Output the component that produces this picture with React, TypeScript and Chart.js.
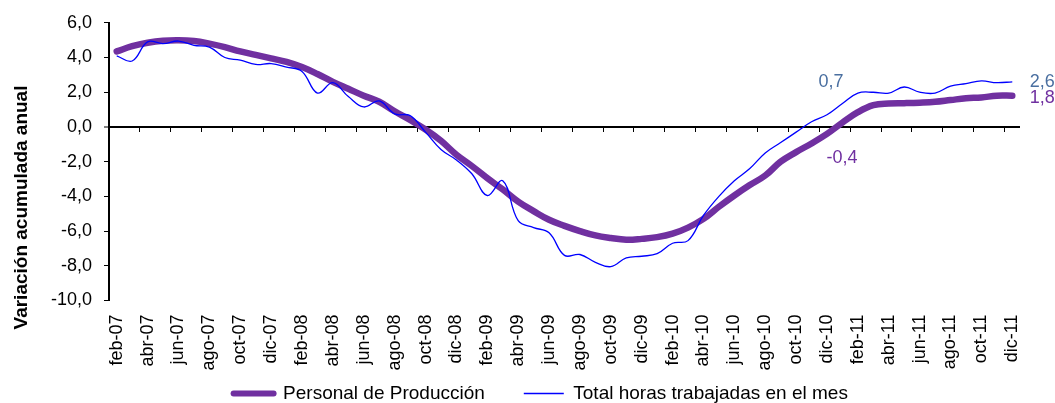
import React, { useEffect, useRef } from 'react';
import { Chart, registerables } from 'chart.js';

Chart.register(...registerables);

const FONT = '"Liberation Sans", Arial, Helvetica, sans-serif';

const months = [
  'feb-07', 'mar-07', 'abr-07', 'may-07', 'jun-07', 'jul-07', 'ago-07', 'sep-07', 'oct-07', 'nov-07', 'dic-07',
  'ene-08', 'feb-08', 'mar-08', 'abr-08', 'may-08', 'jun-08', 'jul-08', 'ago-08', 'sep-08', 'oct-08', 'nov-08', 'dic-08',
  'ene-09', 'feb-09', 'mar-09', 'abr-09', 'may-09', 'jun-09', 'jul-09', 'ago-09', 'sep-09', 'oct-09', 'nov-09', 'dic-09',
  'ene-10', 'feb-10', 'mar-10', 'abr-10', 'may-10', 'jun-10', 'jul-10', 'ago-10', 'sep-10', 'oct-10', 'nov-10', 'dic-10',
  'ene-11', 'feb-11', 'mar-11', 'abr-11', 'may-11', 'jun-11', 'jul-11', 'ago-11', 'sep-11', 'oct-11', 'nov-11', 'dic-11',
];

const personalProduccion = [
  4.35, 4.65, 4.85, 4.97, 5.0, 4.95, 4.8, 4.6, 4.35, 4.15,
  3.95, 3.75, 3.45, 3.05, 2.6, 2.2, 1.8, 1.45, 0.9, 0.4,
  -0.15, -0.8, -1.6, -2.25, -2.95, -3.6, -4.3, -4.85, -5.35, -5.7,
  -6.0, -6.25, -6.4, -6.5, -6.45, -6.35, -6.15, -5.8, -5.3, -4.6,
  -3.95, -3.35, -2.8, -2.0, -1.45, -0.95, -0.4, 0.25, 0.85, 1.25,
  1.35, 1.37, 1.4, 1.45, 1.55, 1.65, 1.7, 1.8, 1.8,
];

const totalHoras = [
  4.1, 3.8, 4.9, 4.8, 4.95, 4.7, 4.6, 4.0, 3.85, 3.6,
  3.65, 3.45, 3.2, 1.95, 2.55, 1.75, 1.15, 1.5, 0.75, 0.65,
  -0.3, -1.3, -1.9, -2.7, -3.95, -3.1, -5.4, -5.8, -6.1, -7.4,
  -7.35, -7.8, -8.05, -7.55, -7.45, -7.3, -6.7, -6.55, -5.1, -4.0,
  -3.1, -2.4, -1.5, -0.9, -0.3, 0.3, 0.7, 1.35, 1.95, 2.0,
  1.95, 2.3, 2.0, 1.95, 2.35, 2.5, 2.65, 2.55, 2.6,
];

const seriesNames = ['Personal de Producción', 'Total horas trabajadas en el mes'];
const axisTitle = 'Variación acumulada anual';
const Y_MIN = -10;
const Y_MAX = 6;
const Y_STEP = 2;
const markIndex = 46; // dic-10

const PURPLE = '#7030A0';
const BLUE = '#0000FF';
const LABEL_BLUE = '#4A6FA0';

const fmt = (v: number) => v.toFixed(1).replace('.', ',');

const yTitlePlugin = {
  id: 'yTitle',
  afterDraw(chart: any) {
    const ctx = chart.ctx;
    ctx.save();
    ctx.font = `bold 19px ${FONT}`;
    ctx.fillStyle = '#000';
    ctx.textAlign = 'center';
    ctx.textBaseline = 'alphabetic';
    ctx.translate(26.5, chart.height / 2 + 6);
    ctx.rotate(-Math.PI / 2);
    ctx.fillText(axisTitle, 0, 0);
    ctx.restore();
  },
};

const valueLabelPlugin = {
  id: 'valueLabels',
  afterDatasetsDraw(chart: any) {
    const ctx = chart.ctx;
    const p = chart.getDatasetMeta(0).data;
    const b = chart.getDatasetMeta(1).data;
    const last = months.length - 1;
    ctx.save();
    ctx.font = `18px ${FONT}`;
    ctx.textAlign = 'center';
    ctx.textBaseline = 'middle';
    ctx.fillStyle = LABEL_BLUE;
    ctx.fillText(fmt(totalHoras[markIndex]), b[markIndex].x + 4, b[markIndex].y - 33);
    ctx.fillText(fmt(totalHoras[last]), b[last].x + 30, b[last].y);
    ctx.fillStyle = PURPLE;
    ctx.fillText(fmt(personalProduccion[markIndex]), p[markIndex].x + 15, p[markIndex].y + 24);
    ctx.fillText(fmt(personalProduccion[last]), p[last].x + 30, p[last].y + 2);
    ctx.restore();
  },
};

export default function App() {
  const ref = useRef<HTMLCanvasElement | null>(null);

  useEffect(() => {
    if (!ref.current) return;
    const chart = new Chart(ref.current, {
      type: 'line',
      data: {
        labels: months,
        datasets: [
          {
            label: seriesNames[0],
            data: personalProduccion,
            borderColor: PURPLE,
            backgroundColor: PURPLE,
            borderWidth: 6.5,
            borderCapStyle: 'round',
            borderJoinStyle: 'round',
            pointRadius: 0,
            tension: 0.4,
            order: 1,
          },
          {
            label: seriesNames[1],
            data: totalHoras,
            borderColor: BLUE,
            backgroundColor: BLUE,
            borderWidth: 1.3,
            pointRadius: 0,
            tension: 0.4,
            order: 0,
          },
        ],
      },
      options: {
        responsive: false,
        animation: false,
        events: [],
        layout: { padding: { left: 0, right: 35, top: 20, bottom: -10 } },
        plugins: {
          tooltip: { enabled: false },
          legend: {
            position: 'bottom',
            fullSize: false,
            labels: {
              usePointStyle: true,
              pointStyleWidth: 40,
              padding: 2,
              color: '#000',
              font: { size: 19, family: FONT },
              generateLabels: () => [
                {
                  text: seriesNames[0] + '       ',
                  pointStyle: 'line',
                  strokeStyle: PURPLE,
                  fillStyle: PURPLE,
                  lineWidth: 6,
                  lineCap: 'round',
                  datasetIndex: 0,
                  hidden: false,
                },
                {
                  text: seriesNames[1] + '         ',
                  pointStyle: 'line',
                  strokeStyle: BLUE,
                  fillStyle: BLUE,
                  lineWidth: 1.3,
                  datasetIndex: 1,
                  hidden: false,
                },
              ],
            },
          },
        },
        scales: {
          x: {
            type: 'category',
            offset: true,
            grid: { display: false, drawTicks: false, offset: true },
            border: { display: false },
            ticks: {
              autoSkip: false,
              minRotation: 90,
              maxRotation: 90,
              padding: 14,
              color: '#000',
              font: { size: 18, family: FONT },
              callback: (_v: any, i: number) => (i % 2 === 0 ? months[i] : ''),
            },
            afterFit: (s: any) => {
              s.height = 81.5;
            },
          },
          x2: {
            type: 'category',
            axis: 'x',
            position: { y: 0 },
            offset: true,
            grid: {
              offset: true,
              drawOnChartArea: false,
              drawTicks: true,
              tickLength: 5,
              lineWidth: 1,
              color: (c: any) => (c.index > 0 && c.index % 2 === 0 ? '#000' : 'rgba(0,0,0,0)'),
            },
            border: { display: false },
            ticks: { display: false, autoSkip: false },
          },
          y: {
            min: Y_MIN,
            max: Y_MAX,
            ticks: {
              stepSize: Y_STEP,
              padding: 12,
              color: '#000',
              font: { size: 18, family: FONT },
              callback: (v: any) => fmt(Number(v)),
            },
            grid: {
              drawTicks: true,
              tickLength: 5,
              color: (c: any) => (c.tick && c.tick.value === 0 ? '#000' : 'rgba(0,0,0,0)'),
              lineWidth: (c: any) => (c.tick && c.tick.value === 0 ? 2 : 1),
              tickColor: '#000',
              tickWidth: 1,
            },
            border: { display: true, color: '#000', width: 2 },
            afterFit: (s: any) => {
              s.width = 109;
            },
          },
        },
      } as any,
      plugins: [yTitlePlugin, valueLabelPlugin],
    });
    return () => chart.destroy();
  }, []);

  return (
    <div style={{ position: 'fixed', left: 0, top: 0, width: 1055, height: 403, background: '#fff' }}>
      <canvas ref={ref} width={1055} height={403} style={{ width: 1055, height: 403 }} />
    </div>
  );
}
